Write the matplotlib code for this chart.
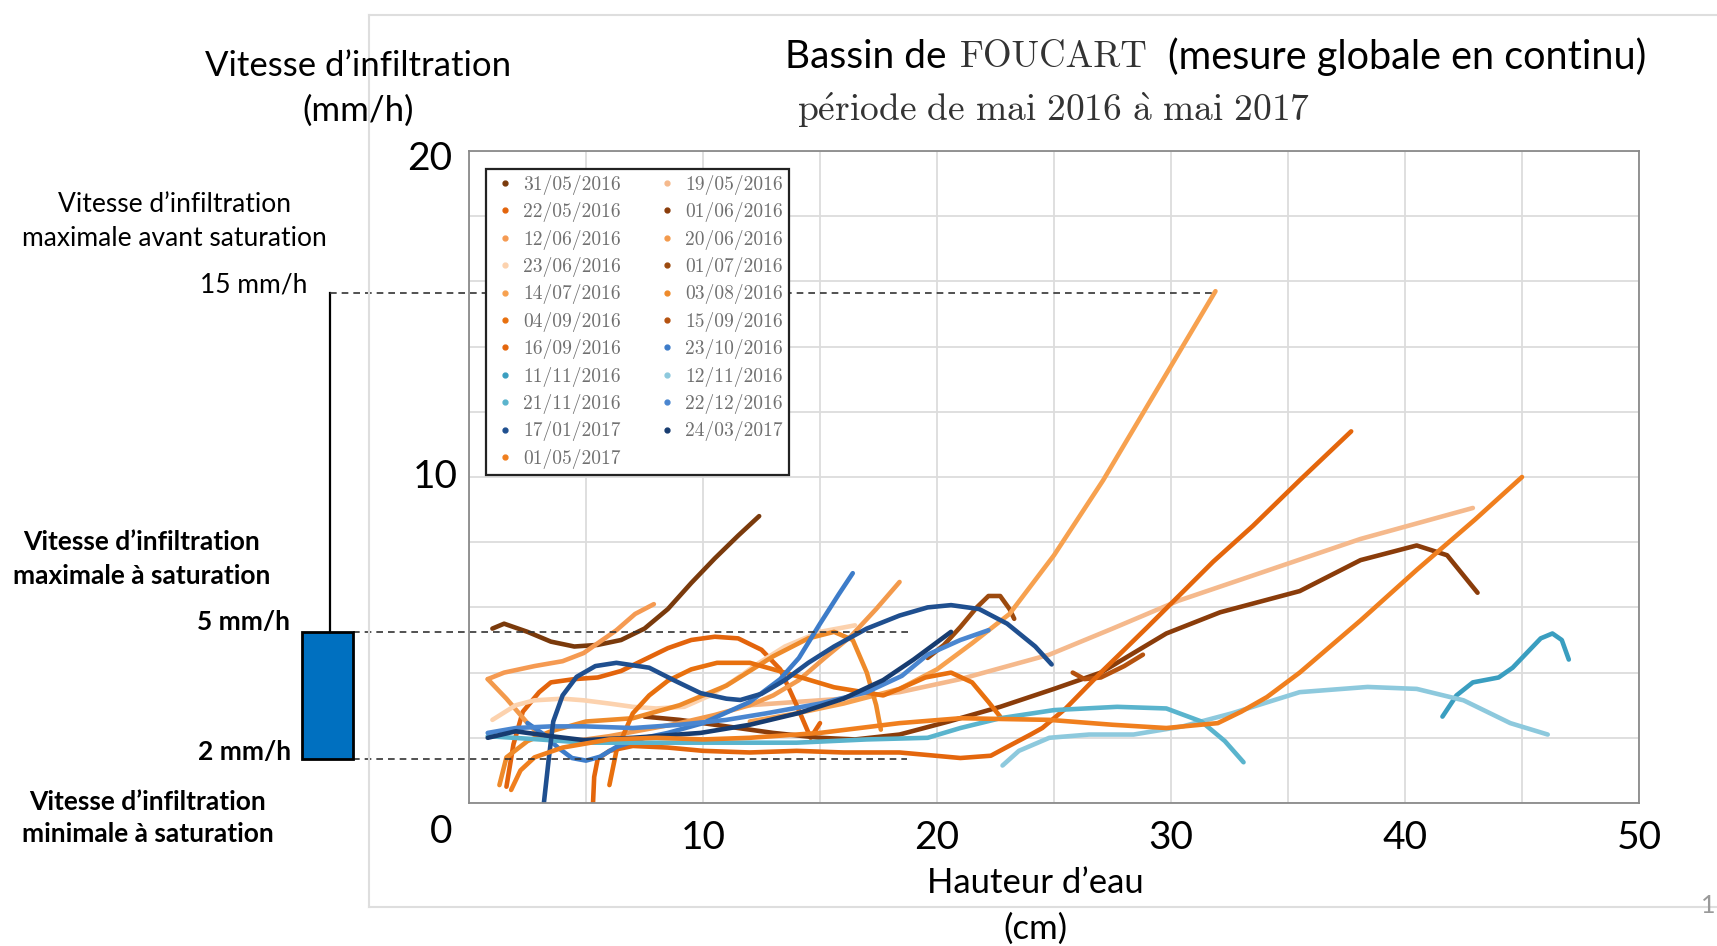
import numpy as np
import matplotlib
matplotlib.use("Agg")
import matplotlib.pyplot as plt
from matplotlib.lines import Line2D
from matplotlib.patches import Rectangle

W, H = 1717, 946
plt.rcParams['mathtext.fontset'] = 'cm'
plt.rcParams['axes.formatter.use_mathtext'] = True
SANS = ['Lato', 'DejaVu Sans']
SERIF = ['cmr10', 'DejaVu Serif']

# ---------------- data ----------------
labels = ["31/05/2016", "19/05/2016", "22/05/2016", "01/06/2016", "12/06/2016",
          "20/06/2016", "23/06/2016", "01/07/2016", "14/07/2016", "03/08/2016",
          "04/09/2016", "15/09/2016", "16/09/2016", "23/10/2016", "11/11/2016",
          "12/11/2016", "21/11/2016", "22/12/2016", "17/01/2017", "24/03/2017",
          "01/05/2017"]
colors = ["#7a3a0c", "#f5b98c", "#e3640c", "#8a3c0a", "#f59a52",
          "#f39a4c", "#fcd2ae", "#9c4a0e", "#f7a14f", "#ee8a2a",
          "#e8700e", "#b5520f", "#e4660c", "#3d7cc9", "#3a9ec0",
          "#8dc9dd", "#5ab4cd", "#4a86d0", "#1f4f8f", "#173c70",
          "#f07f1e"]

x_3105 = [1.0, 1.5, 2.5, 3.5, 4.5, 5.5, 6.5, 7.5, 8.5, 9.5, 10.5, 11.5, 12.4]
y_3105 = [5.35, 5.5, 5.25, 4.95, 4.8, 4.85, 5.0, 5.35, 5.95, 6.75, 7.5, 8.2, 8.8]
x_1905 = [12, 14, 16, 18.4, 21, 24.8, 27.5, 30.3, 34, 38.1, 42.9]
y_1905 = [3.0, 3.1, 3.2, 3.4, 3.8, 4.55, 5.35, 6.2, 7.1, 8.1, 9.05]
x_2205 = [1.6, 1.9, 2.3, 3.0, 3.5, 4.5, 5.5, 6.5, 7.5, 8.5, 9.5, 10.5, 11.5, 12.5, 13.3, 14.0, 14.6, 15.0]
y_2205 = [0.5, 1.8, 2.8, 3.4, 3.7, 3.8, 3.85, 4.05, 4.4, 4.75, 5.0, 5.1, 5.05, 4.7, 4.1, 3.0, 2.0, 2.45]
x_0106 = [7.5, 9, 11, 13, 15, 16.5, 18.4, 20.5, 22.7, 25, 27, 29.8, 32.1, 35.5, 38.1, 40.5, 41.8, 43.1]
y_0106 = [2.65, 2.55, 2.35, 2.15, 2.0, 1.95, 2.1, 2.5, 2.95, 3.5, 4.0, 5.2, 5.85, 6.5, 7.45, 7.9, 7.6, 6.45]
x_1206 = [0.8, 1.5, 2.8, 4.0, 4.9, 5.6, 6.3, 7.1, 7.9]
y_1206 = [3.8, 4.0, 4.2, 4.35, 4.6, 4.95, 5.3, 5.8, 6.1]
x_2006 = [0.8, 1.6, 2.5, 3.2, 4.5, 6, 7.5, 9, 10.5, 12, 13, 14.1, 15.2, 16.3, 17.4, 18.4]
y_2006 = [3.8, 3.2, 2.45, 1.95, 1.9, 2.05, 2.25, 2.45, 2.7, 3.0, 3.3, 3.77, 4.45, 5.1, 5.95, 6.78]
x_2306 = [1, 2, 2.8, 4, 4.9, 6, 7, 8, 9.2, 10.3, 11.3, 12.4, 13.5, 15, 16.5]
y_2306 = [2.55, 3.0, 3.15, 3.2, 3.15, 3.05, 2.95, 2.9, 2.95, 3.3, 3.75, 4.3, 4.8, 5.25, 5.45]
x_0107 = [19.6, 20.3, 21, 21.7, 22.2, 22.7, 23.1, 23.3]
y_0107 = [4.45, 4.85, 5.4, 6.0, 6.35, 6.35, 5.95, 5.65]
x_1407 = [12, 14, 16, 18.4, 20, 21.5, 23.1, 25, 27.1, 29.5, 31.9]
y_1407 = [2.5, 2.75, 3.05, 3.5, 4.1, 4.9, 5.8, 7.6, 9.9, 12.8, 15.7]
x_0308 = [1.3, 1.6, 2.5, 3.5, 5, 7, 9, 11, 13, 14.5, 15.6, 16.4, 17.0, 17.4, 17.6]
y_0308 = [0.55, 1.4, 1.9, 2.2, 2.5, 2.6, 3.0, 3.6, 4.5, 5.05, 5.25, 5.0, 4.0, 3.0, 2.25]
x_0409 = [6.0, 6.3, 7, 7.7, 8.5, 9.5, 10.6, 12, 13.5, 15.6, 17.7, 18.4, 19.5, 20.6, 21.5, 22.2, 22.7]
y_0409 = [0.55, 1.6, 2.75, 3.3, 3.75, 4.1, 4.3, 4.3, 4.0, 3.55, 3.3, 3.5, 3.85, 4.0, 3.7, 3.1, 2.65]
x_1509 = [25.8, 26.3, 27, 28, 28.8]
y_1509 = [4.0, 3.8, 3.85, 4.2, 4.55]
x_1609 = [5.3, 5.35, 5.5, 6, 7, 8.5, 10, 12, 14, 16, 18.4, 21, 22.3, 23, 24, 24.5, 25.5, 27, 29, 31.8, 33.5, 35.5, 37.7]
y_1609 = [0.0, 0.8, 1.35, 1.6, 1.75, 1.7, 1.6, 1.55, 1.6, 1.55, 1.55, 1.38, 1.45, 1.72, 2.1, 2.3, 2.9, 4.0, 5.4, 7.4, 8.5, 9.9, 11.4]
x_2310 = [2.5, 3.2, 3.8, 4.4, 5.0, 5.6, 6.3, 7.5, 8.5, 10, 12, 13.3, 14.1, 15, 15.8, 16.4]
y_2310 = [2.45, 2.1, 1.7, 1.38, 1.3, 1.42, 1.72, 2.0, 2.15, 2.45, 3.1, 3.8, 4.45, 5.5, 6.4, 7.05]
x_1111 = [41.6, 42.2, 42.9, 44, 44.6, 45.2, 45.8, 46.3, 46.7, 47]
y_1111 = [2.65, 3.3, 3.7, 3.85, 4.15, 4.6, 5.05, 5.2, 5.0, 4.4]
x_1211 = [22.8, 23.5, 24.8, 26.5, 28.4, 30.5, 32.6, 35.5, 38.4, 40.5, 42.5, 44.5, 46.1]
y_1211 = [1.15, 1.6, 2.0, 2.1, 2.1, 2.35, 2.75, 3.4, 3.56, 3.5, 3.15, 2.45, 2.1]
x_2111 = [0.8, 3, 5, 7, 10, 14, 17, 19.6, 21, 22.7, 25, 27.7, 29.8, 31.3, 32.3, 33.1]
y_2111 = [2.05, 1.95, 1.85, 1.85, 1.85, 1.85, 1.95, 2.0, 2.3, 2.6, 2.85, 2.95, 2.9, 2.5, 1.9, 1.25]
x_2212 = [0.8, 2, 3.5, 5, 7, 9, 11, 12.7, 15, 17, 18.5, 19.6, 21, 22.2]
y_2212 = [2.15, 2.3, 2.35, 2.35, 2.3, 2.4, 2.55, 2.75, 3.05, 3.4, 3.9, 4.55, 5.0, 5.3]
x_1701 = [3.2, 3.4, 3.6, 4.0, 4.6, 5.4, 6.3, 7.7, 8.8, 9.9, 11, 11.6, 12.5, 13.5, 14.5, 15.6, 17, 18.4, 19.6, 20.6, 21.8, 23, 24.2, 24.9]
y_1701 = [0.0, 1.3, 2.5, 3.3, 3.87, 4.2, 4.3, 4.15, 3.75, 3.37, 3.2, 3.16, 3.35, 3.77, 4.3, 4.8, 5.35, 5.75, 6.0, 6.07, 5.95, 5.5, 4.8, 4.25]
x_2403 = [0.8, 2, 3.5, 4.9, 7, 9.9, 12, 14.1, 16, 17.7, 19, 20.6]
y_2403 = [2.0, 2.2, 2.05, 1.93, 2.0, 2.15, 2.4, 2.76, 3.2, 3.77, 4.4, 5.25]
x_0105 = [1.8, 2.2, 2.8, 4, 6, 8, 10, 12, 15, 18.4, 21, 24.8, 27.5, 29.8, 32, 33, 34.1, 35.5, 38.1, 40.5, 43, 45]
y_0105 = [0.4, 1.0, 1.4, 1.7, 1.95, 2.0, 1.95, 2.0, 2.15, 2.45, 2.6, 2.55, 2.4, 2.3, 2.45, 2.8, 3.25, 4.0, 5.6, 7.15, 8.7, 10.0]

series_x = [x_3105, x_1905, x_2205, x_0106, x_1206, x_2006, x_2306, x_0107, x_1407, x_0308,
            x_0409, x_1509, x_1609, x_2310, x_1111, x_1211, x_2111, x_2212, x_1701, x_2403, x_0105]
series_y = [y_3105, y_1905, y_2205, y_0106, y_1206, y_2006, y_2306, y_0107, y_1407, y_0308,
            y_0409, y_1509, y_1609, y_2310, y_1111, y_1211, y_2111, y_2212, y_1701, y_2403, y_0105]

xtick_vals = [10, 20, 30, 40, 50]
ytick_vals = [0, 10, 20]
ref_levels = [15.64, 5.25, 1.35]   # visual positions of 15 / 5 / 2 mm/h markers

# ---------------- figure ----------------
fig = plt.figure(figsize=(W / 100, H / 100), dpi=100)

def fx(X):
    return X / W

def fy(Y):
    return 1 - Y / H

# page border
for xs_, ys_ in [([369, 369], [15, 907]), ([369, W], [15, 15]), ([369, W], [907, 907])]:
    fig.add_artist(Line2D([fx(v) for v in xs_], [fy(v) for v in ys_],
                          color="#dedede", lw=1.5, transform=fig.transFigure))
fig.text(fx(1715), fy(905), "1", fontsize=18, color="#9a9a9a", family=SANS,
         ha="right", va="center")

ax = fig.add_axes([fx(469), fy(803), 1170 / W, 652 / H])
ax.set_xlim(0, 50)
ax.set_ylim(0, 20)
ax.set_xticks(np.arange(0, 51, 5), minor=True)
ax.set_yticks(np.arange(0, 21, 2), minor=True)
ax.set_xticks(xtick_vals)
ax.set_yticks(ytick_vals)
ax.set_xticklabels([str(v) for v in xtick_vals], family=SANS, fontsize=28)
ax.set_yticklabels([])
ax.tick_params(which="both", length=0)
ax.tick_params(axis="x", pad=12)
ax.grid(which="both", color="#dcdcdc", lw=1.3)
ax.set_axisbelow(True)
for sp in ax.spines.values():
    sp.set_color("#8a8a8a")
    sp.set_linewidth(1.3)
# y labels placed like the reference (slightly irregular offsets)
y_label_offsets = {0: (-20, -21), 10: (-24, 0), 20: (-28, -6)}
for v in ytick_vals:
    ax.annotate(str(v), xy=(0, v), xytext=y_label_offsets[v], textcoords="offset points",
                fontsize=28, family=SANS, ha="center", va="center", annotation_clip=False)

for xv, yv, c in zip(series_x, series_y, colors):
    ax.plot(xv, yv, color=c, lw=3.3, solid_capstyle="round", solid_joinstyle="round")

# legend (row-wise order like the reference)
handles = [Line2D([], [], ls="none", marker="o", markersize=3.5, color=c) for c in colors]
order = list(range(0, len(labels), 2)) + list(range(1, len(labels), 2))
leg = ax.legend([handles[i] for i in order], [labels[i] for i in order], ncol=2,
                loc="upper left", bbox_to_anchor=(0.0145, 0.9724), borderaxespad=0,
                prop={"family": SERIF, "size": 14}, frameon=True, fancybox=False,
                framealpha=1, edgecolor="#222222", handlelength=1.4,
                handletextpad=0.2, columnspacing=1.7, labelspacing=0.38,
                borderpad=0.3)
leg.get_frame().set_linewidth(1.6)
for t in leg.get_texts():
    t.set_color("#707070")

# reference annotations on the left
xv_line = (330 - 469) / 23.4
x_rect0 = (302 - 469) / 23.4
x_rect1 = (353 - 469) / 23.4
ax.plot([xv_line, xv_line], [ref_levels[1], ref_levels[0]], color="black", lw=1.6, clip_on=False)
ax.plot([xv_line, 31.9], [ref_levels[0]] * 2, color="#333333", lw=1.2, ls=(0, (4, 3)), clip_on=False)
ax.plot([x_rect1, 18.8], [ref_levels[1]] * 2, color="#333333", lw=1.2, ls=(0, (4, 3)), clip_on=False)
ax.plot([x_rect1, 18.7], [ref_levels[2]] * 2, color="#333333", lw=1.2, ls=(0, (4, 3)), clip_on=False)
ax.add_patch(Rectangle((x_rect0, ref_levels[2]), x_rect1 - x_rect0, ref_levels[1] - ref_levels[2],
                       facecolor="#0070C0", edgecolor="black", lw=2, clip_on=False, zorder=5))

# texts
fig.text(fx(358), fy(66), "Vitesse d’infiltration", fontsize=25, family=SANS, ha="center", va="center")
fig.text(fx(358), fy(111), "(mm/h)", fontsize=25, family=SANS, ha="center", va="center")
fig.text(fx(785), fy(57), "Bassin de", fontsize=28, family=SANS, ha="left", va="center")
fig.text(fx(960), fy(57), "FOUCART", fontsize=26.5, family=SERIF, color="#333333", ha="left", va="center")
fig.text(fx(1168), fy(57), "(mesure globale en continu)", fontsize=28.5, family=SANS, ha="left", va="center")
fig.text(fx(797), fy(110), r"$\mathrm{p\acute{e}riode\ de\ mai\ 2016\ \grave{a}\ mai\ 2017}$",
         fontsize=27, color="#333333", ha="left", va="center")
fig.text(fx(1035), fy(883), "Hauteur d’eau", fontsize=25, family=SANS, ha="center", va="center")
fig.text(fx(1035), fy(929), "(cm)", fontsize=25, family=SANS, ha="center", va="center")

fig.text(fx(174), fy(205), "Vitesse d’infiltration", fontsize=19, family=SANS, ha="center", va="center")
fig.text(fx(174), fy(238), "maximale avant saturation", fontsize=19, family=SANS, ha="center", va="center")
fig.text(fx(254), fy(285), "15 mm/h", fontsize=19, family=SANS, ha="center", va="center")
fig.text(fx(142), fy(542), "Vitesse d’infiltration", fontsize=19, family=SANS, weight="bold", ha="center", va="center")
fig.text(fx(142), fy(576), "maximale à saturation", fontsize=19, family=SANS, weight="bold", ha="center", va="center")
fig.text(fx(290), fy(622), "5 mm/h", fontsize=19, family=SANS, weight="bold", ha="right", va="center")
fig.text(fx(291), fy(752), "2 mm/h", fontsize=19, family=SANS, weight="bold", ha="right", va="center")
fig.text(fx(148), fy(802), "Vitesse d’infiltration", fontsize=19, family=SANS, weight="bold", ha="center", va="center")
fig.text(fx(148), fy(834), "minimale à saturation", fontsize=19, family=SANS, weight="bold", ha="center", va="center")

fig.savefig("out.png", dpi=100, facecolor="white")
